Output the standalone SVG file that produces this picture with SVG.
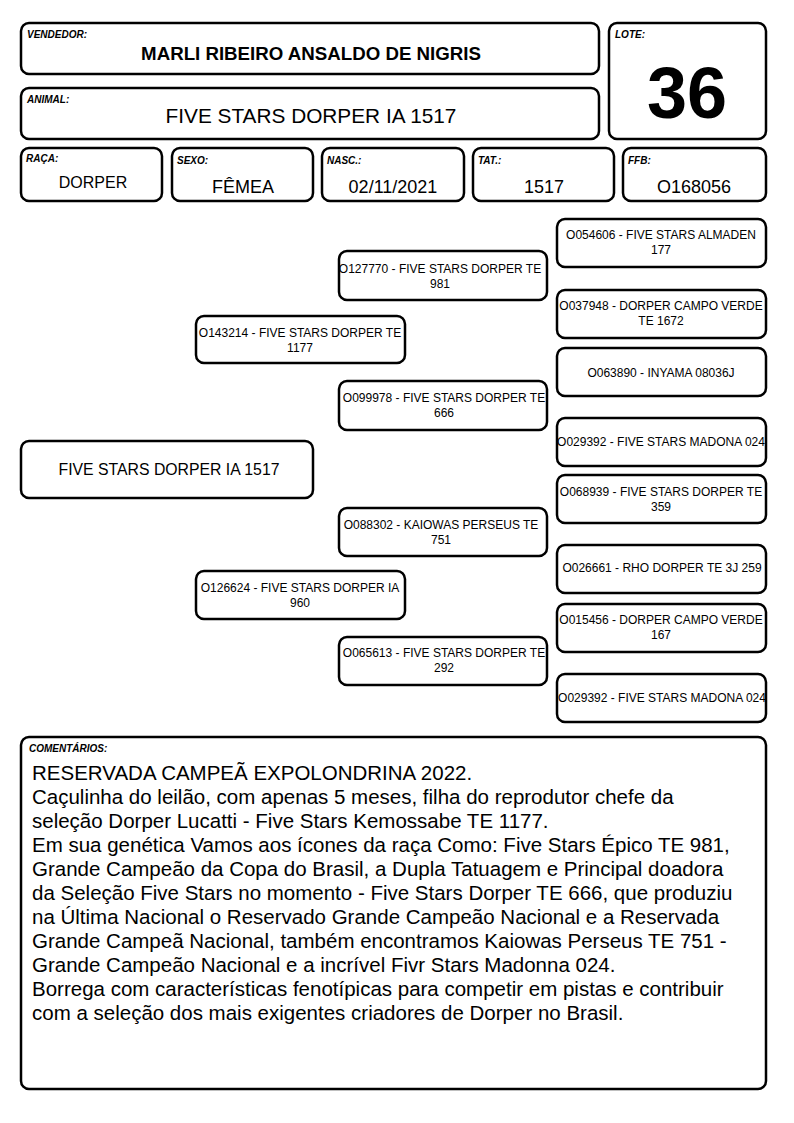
<svg xmlns="http://www.w3.org/2000/svg" width="794" height="1123" viewBox="0 0 794 1123">
<style>
.b{fill:#fff;stroke:#000;stroke-width:2.5}
.lbl{font-family:"Liberation Sans",Arial,sans-serif;font-size:10px;font-weight:bold;font-style:italic}
.t{font-family:"Liberation Sans",Arial,sans-serif;text-anchor:middle}
.p{font-family:"Liberation Sans",Arial,sans-serif;font-size:12px;text-anchor:middle}
.c{font-family:"Liberation Sans",Arial,sans-serif;font-size:20.5px}
</style>
<rect width="794" height="1123" fill="#fff"/>
<g id="vendedor"><rect class="b" x="21" y="23" width="578" height="51" rx="8"/><text class="lbl" x="27" y="38">VENDEDOR:</text><text class="t" x="311" y="60" font-size="18.7" font-weight="bold">MARLI RIBEIRO ANSALDO DE NIGRIS</text></g>
<g id="animal"><rect class="b" x="21" y="88" width="578" height="51" rx="8"/><text class="lbl" x="27" y="103">ANIMAL:</text><text class="t" x="311" y="123" font-size="20.8">FIVE STARS DORPER IA 1517</text></g>
<g id="lote"><rect class="b" x="609" y="23" width="157" height="116" rx="8"/><text class="lbl" x="615" y="38">LOTE:</text><text class="t" x="687" y="118" font-size="72" font-weight="bold">36</text></g>
<g id="raca"><rect class="b" x="21" y="148" width="141" height="53" rx="8"/><text class="lbl" x="26" y="162">RAÇA:</text><text class="t" x="93" y="188" font-size="16">DORPER</text></g>
<g id="sexo"><rect class="b" x="172" y="148" width="141" height="53" rx="8"/><text class="lbl" x="177" y="164">SEXO:</text><text class="t" x="243" y="193" font-size="18">FÊMEA</text></g>
<g id="nasc"><rect class="b" x="322" y="148" width="142" height="53" rx="8"/><text class="lbl" x="327" y="164">NASC.:</text><text class="t" x="393" y="193" font-size="18">02/11/2021</text></g>
<g id="tat"><rect class="b" x="473" y="148" width="141" height="53" rx="8"/><text class="lbl" x="478" y="164">TAT.:</text><text class="t" x="544" y="193" font-size="18">1517</text></g>
<g id="ffb"><rect class="b" x="623" y="148" width="143" height="53" rx="8"/><text class="lbl" x="628" y="164">FFB:</text><text class="t" x="694" y="193" font-size="18">O168056</text></g>
<g id="connectors"></g>
<g id="main"><rect class="b" x="21" y="441" width="292" height="57" rx="8"/><text class="t" x="169" y="475" font-size="15.8">FIVE STARS DORPER IA 1517</text></g>
<g id="sire"><rect class="b" x="196" y="316" width="209" height="47" rx="8"/><text class="p" x="300" y="337">O143214 - FIVE STARS DORPER TE</text><text class="p" x="300" y="352">1177</text></g>
<g id="dam"><rect class="b" x="196" y="571" width="209" height="48" rx="8"/><text class="p" x="300" y="592">O126624 - FIVE STARS DORPER IA</text><text class="p" x="300" y="607">960</text></g>
<g id="ss"><rect class="b" x="339" y="251" width="208" height="49" rx="8"/><text class="p" x="440" y="273">O127770 - FIVE STARS DORPER TE</text><text class="p" x="440" y="288">981</text></g>
<g id="sd"><rect class="b" x="339" y="381" width="208" height="49" rx="8"/><text class="p" x="444" y="402">O099978 - FIVE STARS DORPER TE</text><text class="p" x="444" y="417">666</text></g>
<g id="ds"><rect class="b" x="339" y="508" width="208" height="48" rx="8"/><text class="p" x="441" y="529">O088302 - KAIOWAS PERSEUS TE</text><text class="p" x="441" y="544">751</text></g>
<g id="dd"><rect class="b" x="339" y="637" width="208" height="48" rx="8"/><text class="p" x="444" y="657">O065613 - FIVE STARS DORPER TE</text><text class="p" x="444" y="672">292</text></g>
<g id="sss"><rect class="b" x="557" y="219" width="209" height="48" rx="8"/><text class="p" x="661" y="239">O054606 - FIVE STARS ALMADEN</text><text class="p" x="661" y="254">177</text></g>
<g id="ssd"><rect class="b" x="557" y="290" width="209" height="48" rx="8"/><text class="p" x="661" y="310">O037948 - DORPER CAMPO VERDE</text><text class="p" x="661" y="325">TE 1672</text></g>
<g id="sds"><rect class="b" x="557" y="348" width="209" height="48" rx="8"/><text class="p" x="661" y="377">O063890 - INYAMA 08036J</text></g>
<g id="sdd"><rect class="b" x="557" y="418" width="209" height="48" rx="8"/><text class="p" x="661" y="446">O029392 - FIVE STARS MADONA 024</text></g>
<g id="dss"><rect class="b" x="557" y="475" width="209" height="48" rx="8"/><text class="p" x="661" y="496">O068939 - FIVE STARS DORPER TE</text><text class="p" x="661" y="511">359</text></g>
<g id="dsd"><rect class="b" x="557" y="545" width="209" height="48" rx="8"/><text class="p" x="662" y="572">O026661 - RHO DORPER TE 3J 259</text></g>
<g id="dds"><rect class="b" x="557" y="604" width="209" height="48" rx="8"/><text class="p" x="661" y="624">O015456 - DORPER CAMPO VERDE</text><text class="p" x="661" y="639">167</text></g>
<g id="ddd"><rect class="b" x="557" y="674" width="209" height="48" rx="8"/><text class="p" x="662" y="702">O029392 - FIVE STARS MADONA 024</text></g>
<g id="comentarios"><rect class="b" x="21" y="737" width="745" height="352" rx="8"/><text class="lbl" x="29" y="752">COMENTÁRIOS:</text>
<text class="c" x="32" y="780">RESERVADA CAMPEÃ EXPOLONDRINA 2022.</text>
<text class="c" x="32" y="804">Caçulinha do leilão, com apenas 5 meses, filha do reprodutor chefe da</text>
<text class="c" x="32" y="828">seleção Dorper Lucatti - Five Stars Kemossabe TE 1177.</text>
<text class="c" x="32" y="852">Em sua genética Vamos aos ícones da raça Como: Five Stars Épico TE 981,</text>
<text class="c" x="32" y="876">Grande Campeão da Copa do Brasil, a Dupla Tatuagem e Principal doadora</text>
<text class="c" x="32" y="900">da Seleção Five Stars no momento - Five Stars Dorper TE 666, que produziu</text>
<text class="c" x="32" y="924">na Última Nacional o Reservado Grande Campeão Nacional e a Reservada</text>
<text class="c" x="32" y="948">Grande Campeã Nacional, também encontramos Kaiowas Perseus TE 751 -</text>
<text class="c" x="32" y="972">Grande Campeão Nacional e a incrível Fivr Stars Madonna 024.</text>
<text class="c" x="32" y="996">Borrega com características fenotípicas para competir em pistas e contribuir</text>
<text class="c" x="32" y="1020">com a seleção dos mais exigentes criadores de Dorper no Brasil.</text>
</g>
</svg>
